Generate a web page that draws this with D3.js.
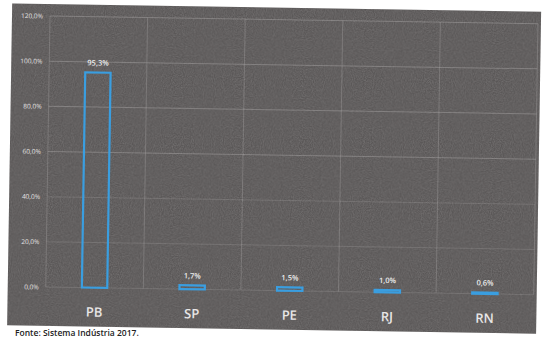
<!DOCTYPE html>
<html>
<head>
<meta charset="utf-8">
<script src="https://cdn.jsdelivr.net/npm/d3@7"></script>
<style>
  html, body { margin: 0; padding: 0; background: #fff; }
  svg { display: block; }
</style>
</head>
<body>
<svg id="chart" width="549" height="340"></svg>
<script>
// ---- data ----
const categories = ["PB", "SP", "PE", "RJ", "RN"];
const values = [95.3, 1.7, 1.5, 1.0, 0.6];
const yTicks = [0, 20, 40, 60, 80, 100, 120];
const sourceText = "Fonte: Sistema Indústria 2017.";

const fmt = v => d3.format(".1f")(v).replace(".", ",") + "%";

const svg = d3.select("#chart");
svg.append("rect").attr("width", 549).attr("height", 340).attr("fill", "#fff");

// defs: subtle scan noise
const defs = svg.append("defs");
const f = defs.append("filter").attr("id", "noise").attr("x", 0).attr("y", 0).attr("width", "100%").attr("height", "100%");
f.append("feTurbulence").attr("type", "fractalNoise").attr("baseFrequency", 0.9).attr("numOctaves", 2).attr("seed", 3).attr("result", "t");
f.append("feColorMatrix").attr("in", "t").attr("type", "matrix")
  .attr("values", "0 0 0 0 0.38  0 0 0 0 0.37  0 0 0 0 0.37  0.9 0 0 0 -0.25").attr("result", "n");
f.append("feComposite").attr("in", "n").attr("in2", "SourceGraphic").attr("operator", "in");

// rotated panel (scanned page is slightly tilted)
const g = svg.append("g").attr("transform", "rotate(0.9, 50, 16)");

const panel = { x0: 12, y0: 4, x1: 541, y1: 326 };
g.append("rect")
  .attr("x", panel.x0).attr("y", panel.y0)
  .attr("width", panel.x1 - panel.x0).attr("height", panel.y1 - panel.y0)
  .attr("fill", "#5a5757");
g.append("rect")
  .attr("x", panel.x0).attr("y", panel.y0)
  .attr("width", panel.x1 - panel.x0).attr("height", panel.y1 - panel.y0)
  .attr("fill", "#5a5757").attr("filter", "url(#noise)").attr("opacity", 0.6);

const x = d3.scaleBand().domain(categories).range([50, 538]).paddingInner(0.74).paddingOuter(0.37);
const y = d3.scaleLinear().domain([0, 120]).range([287, 16]);

// horizontal grid
g.append("g").selectAll("line").data(yTicks).join("line")
  .attr("x1", 50).attr("x2", 538)
  .attr("y1", d => y(d)).attr("y2", d => y(d))
  .attr("stroke", "#b5b2b2").attr("stroke-width", 1)
  .attr("opacity", d => d >= 60 ? 0.4 : 0.22);

// vertical grid at band boundaries
const step = x.step();
const vLines = d3.range(categories.length + 1).map(i => 50 + i * step);
g.append("g").selectAll("line").data(vLines).join("line")
  .attr("x1", d => d).attr("x2", d => d)
  .attr("y1", y(120)).attr("y2", y(0))
  .attr("stroke", "#b5b2b2").attr("stroke-width", 1).attr("opacity", 0.3);

// y tick labels
g.append("g").selectAll("text").data(yTicks).join("text")
  .attr("x", 43).attr("y", d => y(d) + 2.5)
  .attr("text-anchor", "end")
  .attr("font-family", "Open Sans, sans-serif")
  .attr("font-size", 6.5)
  .attr("fill", "#e4e2e2")
  .text(d => fmt(d));

// bars (outlined)
g.append("g").selectAll("rect").data(values).join("rect")
  .attr("x", (d, i) => x(categories[i]))
  .attr("y", d => y(d))
  .attr("width", x.bandwidth())
  .attr("height", d => y(0) - y(d))
  .attr("fill", "none")
  .attr("stroke", "#3a9ee0")
  .attr("stroke-width", 2.2);

// value labels
g.append("g").selectAll("text").data(values).join("text")
  .attr("x", (d, i) => x(categories[i]) + x.bandwidth() / 2)
  .attr("y", d => y(d) - 7)
  .attr("text-anchor", "middle")
  .attr("font-family", "Open Sans, sans-serif")
  .attr("font-size", 7.5)
  .attr("font-weight", 600)
  .attr("fill", "#eeeeee")
  .text(d => fmt(d));

// category labels
g.append("g").selectAll("text").data(categories).join("text")
  .attr("x", d => x(d) + x.bandwidth() / 2)
  .attr("y", 316)
  .attr("text-anchor", "middle")
  .attr("font-family", "Open Sans, sans-serif")
  .attr("font-size", 13)
  .attr("font-weight", 600)
  .attr("fill", "#e8e6e6")
  .text(d => d);

// source
svg.append("text")
  .attr("x", 15).attr("y", 336)
  .attr("font-family", "Open Sans, sans-serif")
  .attr("font-size", 8.5)
  .attr("font-weight", 600)
  .attr("fill", "#222")
  .text(sourceText);
</script>
</body>
</html>
